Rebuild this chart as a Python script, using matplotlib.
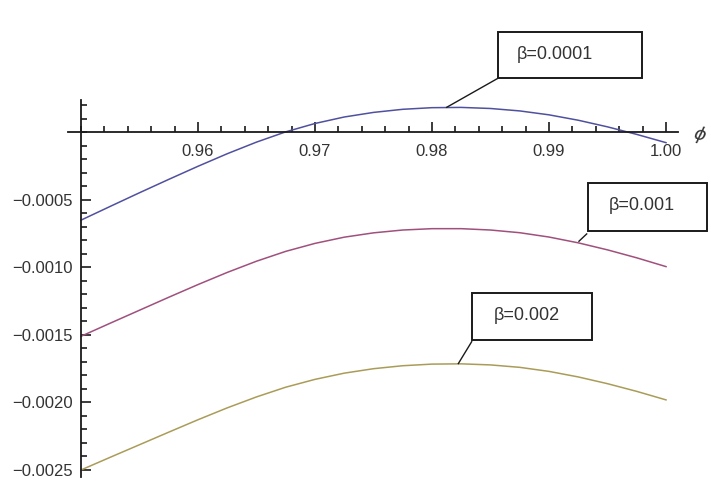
import numpy as np
import matplotlib
matplotlib.use("Agg")
import matplotlib.pyplot as plt
from matplotlib.ticker import FixedLocator, MultipleLocator, FuncFormatter
from matplotlib.patches import Rectangle

# values
phi = [0.95, 0.9525, 0.955, 0.9575, 0.96, 0.9625, 0.965, 0.9675, 0.97, 0.9725,
       0.975, 0.9775, 0.98, 0.9825, 0.985, 0.9875, 0.99, 0.9925, 0.995, 0.9975, 1.0]
beta_0001 = [-0.000650, -0.000548, -0.000447, -0.000348, -0.000251, -0.000158,
             -0.000072, 0.000004, 0.000066, 0.000114, 0.000148, 0.000171,
             0.000183, 0.000185, 0.000177, 0.000159, 0.000130, 0.000090,
             0.000041, -0.000015, -0.000076]
beta_001 = [-0.001510, -0.001413, -0.001317, -0.001221, -0.001127, -0.001037,
            -0.000954, -0.000881, -0.000822, -0.000776, -0.000744, -0.000723,
            -0.000713, -0.000713, -0.000723, -0.000743, -0.000775, -0.000818,
            -0.000870, -0.000929, -0.000994]
beta_002 = [-0.002500, -0.002406, -0.002313, -0.002220, -0.002128, -0.002040,
            -0.001959, -0.001887, -0.001829, -0.001783, -0.001750, -0.001728,
            -0.001716, -0.001714, -0.001722, -0.001740, -0.001770, -0.001811,
            -0.001861, -0.001918, -0.001981]
labels = ["β=0.0001", "β=0.001", "β=0.002"]
x_major = [0.96, 0.97, 0.98, 0.99, 1.00]
y_major = [-0.0005, -0.0010, -0.0015, -0.0020, -0.0025]

colors = ["#5050a0", "#a0507c", "#aa9c58"]

fig = plt.figure(figsize=(7.11, 4.87), dpi=100)
ax = fig.add_axes([0.0958, 0.0211, 0.8574, 0.7736])

for ys, c in zip([beta_0001, beta_001, beta_002], colors):
    ax.plot(phi, ys, color=c, lw=1.1, solid_joinstyle="round")

ax.set_xlim(0.9489, 1.001)
ax.set_ylim(-0.00255, 0.00024)

for s in ["top", "right"]:
    ax.spines[s].set_visible(False)
ax.spines["left"].set_position(("data", 0.95))
ax.spines["bottom"].set_position(("data", 0.0))
for s in ["left", "bottom"]:
    ax.spines[s].set_linewidth(1.3)
    ax.spines[s].set_color("#1a1a1a")

ax.xaxis.set_major_locator(FixedLocator(x_major))
ax.xaxis.set_minor_locator(MultipleLocator(0.002))
ax.xaxis.set_major_formatter(FuncFormatter(lambda v, p: "%.2f" % v))
ax.yaxis.set_major_locator(FixedLocator(y_major))
ax.yaxis.set_minor_locator(MultipleLocator(0.0001))
ax.yaxis.set_major_formatter(FuncFormatter(lambda v, p: ("%.4f" % v).replace("-", "\u2212")))

ax.tick_params(which="both", direction="in", color="#1a1a1a", width=1.2)
ax.tick_params(which="major", length=7)
ax.tick_params(which="minor", length=4)
ax.tick_params(axis="x", which="major", pad=8, labelsize=12, labelcolor="#333333")
ax.tick_params(axis="y", which="major", pad=6, labelsize=12, labelcolor="#333333")
for t in ax.get_xticklabels() + ax.get_yticklabels():
    t.set_family("Liberation Sans")

ax.text(1.0022, -0.00002, "ϕ", fontsize=13, style="italic", rotation=-15,
        ha="left", va="center", color="#333333", clip_on=False)

# label boxes: (x0, x1, y0, y1), text pos, alignment, callout start/end
boxes = [
    ((0.98564, 0.99792, 0.000401, 0.000747), (0.98726, 0.000580), "left",
     (0.98564, 0.000401), (0.98126, 0.000186)),
    ((0.99333, 1.00350, -0.000727, -0.000374), (0.99795, -0.000545), "center",
     (0.99322, -0.000752), (0.99256, -0.000806)),
    ((0.98339, 0.99365, -0.001537, -0.001187), (0.98809, -0.001357), "center",
     (0.98339, -0.00155), (0.98225, -0.001712)),
]
for (x0, x1, y0, y1), (tx, ty), ha, p0, p1 in boxes:
    ax.add_patch(Rectangle((x0, y0), x1 - x0, y1 - y0, fill=False,
                           edgecolor="#1a1a1a", lw=1.4, clip_on=False, zorder=5))
    ax.plot([p0[0], p1[0]], [p0[1], p1[1]], color="#1a1a1a", lw=1.0,
            clip_on=False, zorder=5)
for ((x0, x1, y0, y1), (tx, ty), ha, p0, p1), lab in zip(boxes, labels):
    ax.text(tx, ty, lab, fontsize=13, family="Liberation Sans", ha=ha,
            va="center", color="#333333", clip_on=False, zorder=6)

fig.savefig("out.png", dpi=100, facecolor="white")
